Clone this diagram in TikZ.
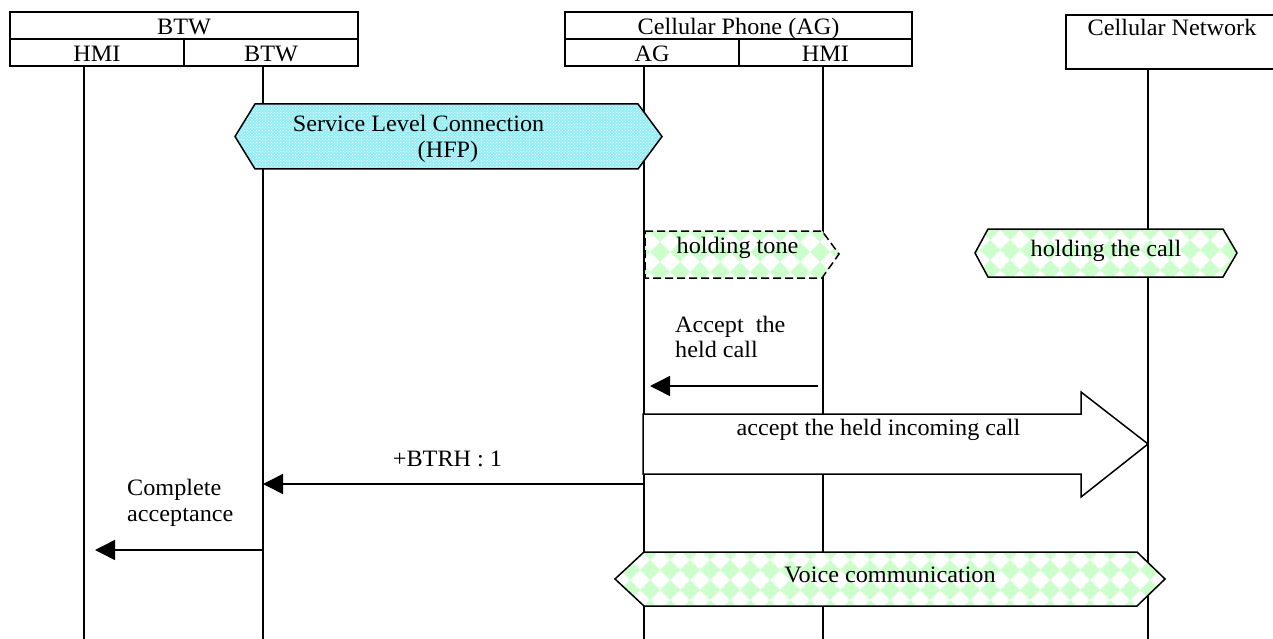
\documentclass[tikz,border=0pt]{standalone}
\usepackage{fontspec}
\setmainfont[FakeStretch=1.03]{Liberation Serif}
\usetikzlibrary{patterns,arrows.meta}

\definecolor{chk}{HTML}{CCFFCC}
\definecolor{slcbg}{HTML}{92EDF4}

% fills the rectangle (#1,#2)-(#3,#4) with a rotated checkerboard of light green diamonds
\newcommand{\chkfill}[4]{%
  \foreach \cx in {#1,\the\numexpr#1+20\relax,...,#3}{%
    \foreach \cy in {#2,\the\numexpr#2+20\relax,...,#4}{%
      \fill[chk] (\cx,\cy-10) -- (\cx+10,\cy) -- (\cx,\cy+10) -- (\cx-10,\cy) -- cycle;
    }%
  }%
}

\begin{document}
\begin{tikzpicture}[x=1pt,y=-1pt,
  every node/.style={font=\fontsize{23.5}{25}\selectfont, inner sep=0pt},
  hdr/.style={draw, line width=1.6pt, inner sep=0pt},
  life/.style={line width=1.4pt},
  msg/.style={line width=1.5pt, -{Triangle[length=20pt,width=20pt]}},
  txt/.style={anchor=base},
  txtl/.style={anchor=base west},
  outline/.style={draw, line width=1.5pt, line join=miter},
]
\useasboundingbox (0,0) rectangle (1273,639);

% ---------- header boxes ----------
\node[hdr, minimum width=348pt, minimum height=27pt] (btwtop) at (184,25.5) {};
\node[hdr, minimum width=174pt, minimum height=27pt] (btwhmi) at (97,52.5) {};
\node[hdr, minimum width=174pt, minimum height=27pt] (btwbtw) at (271,52.5) {};
\node[hdr, minimum width=347pt, minimum height=27pt] (phtop) at (738.5,25.5) {};
\node[hdr, minimum width=174pt, minimum height=27pt] (phag) at (652,52.5) {};
\node[hdr, minimum width=173pt, minimum height=27pt] (phhmi) at (825.5,52.5) {};
\node[hdr, minimum width=220pt, minimum height=54pt] (net) at (1176,42) {};

\node[txt] (t1) at (184,34.3) {BTW};
\node[txt] (t2) at (97,62) {HMI};
\node[txt] (t3) at (271,62) {BTW};
\node[txt] (t4) at (738.5,34.3) {Cellular Phone (AG)};
\node[txt] (t5) at (652,62) {AG};
\node[txt] (t6) at (825.5,62) {HMI};
\node[txt] (t7) at (1172,36) {Cellular Network};

% ---------- lifelines ----------
\coordinate (hmiT) at (84,66);   \coordinate (hmiB) at (84,639);
\coordinate (btwT) at (263,66);  \coordinate (btwB) at (263,639);
\coordinate (agT)  at (644,66);  \coordinate (agB)  at (644,639);
\coordinate (phT)  at (823,66);  \coordinate (phB)  at (823,639);
\coordinate (netT) at (1148,69); \coordinate (netB) at (1148,639);
\foreach \a/\b in {hmiT/hmiB, btwT/btwB, agT/agB, phT/phB, netT/netB}
  \draw[life] (\a) -- (\b);

% ---------- service level connection ----------
\path[preaction={fill=slcbg}, pattern=crosshatch dots, pattern color=white]
  (235,136.5) -- (255,104) -- (638,104) -- (662,136.5) -- (638,169) -- (255,169) -- cycle;
\draw[outline]
  (235,136.5) -- (255,104) -- (638,104) -- (662,136.5) -- (638,169) -- (255,169) -- cycle;
\node[txt] (slc1) at (418.5,132) {Service Level Connection};
\node[txt] (slc2) at (448,158) {(HFP)};

% ---------- holding tone ----------
\fill[white] (645,231) -- (822,231) -- (839,254) -- (822,278) -- (645,278) -- cycle;
\begin{scope}
  \clip (645,231) -- (822,231) -- (839,254) -- (822,278) -- (645,278) -- cycle;
  \chkfill{640}{232}{860}{292}
\end{scope}
\draw[outline, dash pattern=on 8pt off 4pt]
  (645,231) -- (822,231) -- (839,254) -- (822,278) -- (645,278) -- cycle;
\node[txt] (htone) at (737.5,253) {holding tone};

% ---------- holding the call ----------
\fill[white] (975,253) -- (988,229) -- (1223,229) -- (1237,253) -- (1223,277) -- (988,277) -- cycle;
\begin{scope}
  \clip (975,253) -- (988,229) -- (1223,229) -- (1237,253) -- (1223,277) -- (988,277) -- cycle;
  \chkfill{970}{230}{1250}{290}
\end{scope}
\draw[outline]
  (975,253) -- (988,229) -- (1223,229) -- (1237,253) -- (1223,277) -- (988,277) -- cycle;
\node[txt] (hcall) at (1106,256) {holding the call};

% ---------- accept the held call ----------
\node[txtl] (acc1) at (675,332) {Accept\ \ the};
\node[txtl] (acc2) at (675,357) {held call};
\coordinate (accFrom) at (818,386);
\coordinate (accTo) at (650,386);
\draw[msg] (accFrom) -- (accTo);

% ---------- accept the held incoming call (to network) ----------
\draw[outline, fill=white]
  (643,414) -- (1081,414) -- (1081,392) -- (1148,444) -- (1081,497) -- (1081,474) -- (643,474) -- cycle;
\node[txt] (ahic) at (878.5,435) {accept the held incoming call};

% ---------- +BTRH : 1 ----------
\node[txt] (btrh) at (447.5,466) {+BTRH : 1};
\coordinate (btrhFrom) at (645,484);
\coordinate (btrhTo) at (263,484);
\draw[msg] (btrhFrom) -- (btrhTo);

% ---------- complete acceptance ----------
\node[txtl] (comp1) at (127,495) {Complete};
\node[txtl] (comp2) at (127,521) {acceptance};
\coordinate (compFrom) at (263,550);
\coordinate (compTo) at (95,550);
\draw[msg] (compFrom) -- (compTo);

% ---------- voice communication ----------
\fill[white] (615,579) -- (644,552) -- (1137,552) -- (1165,579) -- (1137,606) -- (644,606) -- cycle;
\begin{scope}
  \clip (615,579) -- (644,552) -- (1137,552) -- (1165,579) -- (1137,606) -- (644,606) -- cycle;
  \chkfill{610}{550}{1180}{620}
\end{scope}
\draw[outline]
  (615,579) -- (644,552) -- (1137,552) -- (1165,579) -- (1137,606) -- (644,606) -- cycle;
\node[txt] (voice) at (890,582) {Voice communication};
\end{tikzpicture}
\end{document}
